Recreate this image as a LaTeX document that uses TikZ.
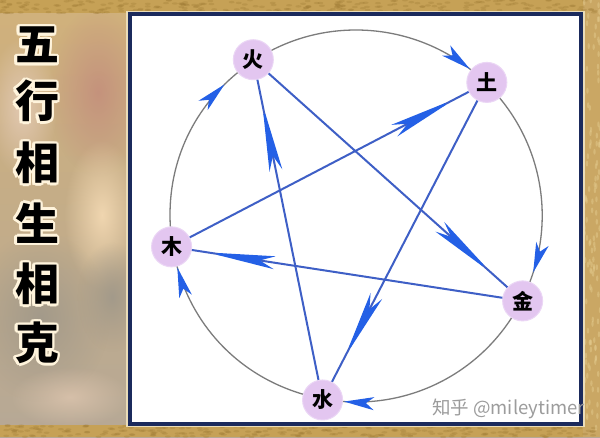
\documentclass[tikz,border=0pt]{standalone}
\usepackage{fontspec}
\newfontfamily\cjk{Noto Sans CJK SC}
\usetikzlibrary{arrows.meta,decorations.markings,calc,fadings}
\definecolor{gold}{HTML}{C6A156}
\definecolor{golddk}{HTML}{9E7A34}
\definecolor{goldlt}{HTML}{E2C98C}
\definecolor{navy}{HTML}{1B2A5C}
\definecolor{cream}{HTML}{EADCB8}
\definecolor{lav}{HTML}{E3C6F0}
\definecolor{lavedge}{HTML}{EBD6F5}
\definecolor{lineblue}{HTML}{3E5FC6}
\definecolor{tipblue}{HTML}{2460E6}
\definecolor{arcgray}{HTML}{7C7C7C}
\definecolor{glow}{HTML}{FFF4DC}
\definecolor{wmgray}{HTML}{9C9C9C}
\definecolor{rosy}{HTML}{C48F7C}
\definecolor{peach}{HTML}{F0D6B0}
\definecolor{cloud}{HTML}{A39A8A}
\definecolor{beige}{HTML}{E2C9B2}
\tikzfading[name=softedge, inner color=transparent!0, outer color=transparent!100]
\tikzset{
  elem/.style={circle, minimum size=40pt, inner sep=0pt, fill=lav, draw=lavedge, line width=1pt,
    font=\cjk\bfseries\fontsize{21}{21}\selectfont},
  titlech/.style={font=\cjk\bfseries\fontsize{44}{44}\selectfont, inner sep=0pt},
  starline/.style={draw=lineblue, line width=2pt, postaction={decorate},
    decoration={markings, mark=at position #1 with {\arrow{Stealth[length=68pt,width=13pt,inset=15pt,color=tipblue]}}}},
  arcline/.style={draw=arcgray, line width=1.3pt, postaction={decorate},
    decoration={markings, mark=at position #1 with {\arrow{Stealth[length=30pt,width=13pt,inset=8pt,color=tipblue]}}}},
  blob/.style={path fading=softedge},
}
\begin{document}
\begin{tikzpicture}[x=1pt,y=1pt]
\useasboundingbox (0,0) rectangle (600,437);
\clip (0,0) rectangle (600,437);
% background
\shade[top color=gold!60!beige, middle color=beige!90!rosy, bottom color=cloud!70!beige] (0,0) rectangle (600,437);
\fill[rosy, blob, opacity=0.9] (98,345) ellipse (50 and 85);
\fill[beige, blob] (22,330) ellipse (35 and 70);
\fill[peach, blob] (102,222) ellipse (38 and 75);
\fill[cloud, blob] (40,120) ellipse (70 and 85);
\fill[cloud, blob] (112,140) ellipse (35 and 55);
\fill[beige, blob, opacity=0.7] (70,40) ellipse (60 and 30);
% golden strips
\fill[gold] (0,424) rectangle (600,437);
\fill[gold] (0,0) rectangle (600,12);
\fill[gold!85!beige] (583,0) rectangle (600,437);
\pgfmathsetseed{11}
\foreach \i in {1,...,260} {
  \pgfmathsetmacro\xx{rnd*600}
  \pgfmathsetmacro\yy{424+rnd*13}
  \fill[golddk, opacity=0.3] (\xx,\yy) ellipse (3 and 1.2);
}
\foreach \i in {1,...,260} {
  \pgfmathsetmacro\xx{rnd*600}
  \pgfmathsetmacro\yy{rnd*12}
  \fill[golddk, opacity=0.3] (\xx,\yy) ellipse (3 and 1.2);
}
\foreach \i in {1,...,120} {
  \pgfmathsetmacro\xx{584+rnd*16}
  \pgfmathsetmacro\yy{rnd*437}
  \fill[goldlt, opacity=0.5] (\xx,\yy) ellipse (1.2 and 3);
}
% panel
\draw[cream, line width=2pt] (126.5,11) rectangle (583.5,425);
\fill[white] (129.5,13.5) rectangle (580.5,422.5);
\draw[navy, line width=4pt] (129.5,13.5) rectangle (580.5,422.5);
% title with light outline
\foreach \ch/\yy [count=\i] in {五/392, 行/336, 相/274, 生/214, 相/153, 克/94} {
  \foreach \a in {0,30,...,330} {
    \path (37,\yy) ++(\a:2.6) node[titlech, text=glow] (g\i-\a) {\ch};
  }
  \node[titlech, text=black] (t\i) at (37,\yy) {\ch};
}
% elements
\coordinate (c) at (356,221);
\node[elem] (huo) at ($(c)+(123.3:187)$) {火};
\node[elem] (tu) at ($(c)+(45.6:187)$) {土};
\node[elem] (jin) at ($(c)+(-27:187)$) {金};
\node[elem] (shui) at ($(c)+(-100.3:187)$) {水};
\node[elem] (mu) at ($(c)+(189.5:187)$) {木};
% generating cycle (arcs)
\draw[arcline=0.9] (mu) to[bend left=27, looseness=0.92] (huo);
\draw[arcline=0.995] (huo) to[bend left=32.8, looseness=0.92] (tu);
\draw[arcline=0.95] (tu) to[bend left=30.2, looseness=0.92] (jin);
\draw[arcline=0.995] (jin) to[bend left=30.6, looseness=0.92] (shui);
\draw[arcline=0.995] (shui) to[bend left=29, looseness=0.92] (mu);
% overcoming cycle (star)
\draw[starline=0.95] (mu) -- (tu);
\draw[starline=0.91] (tu) -- (shui);
\draw[starline=0.92] (shui) -- (huo);
\draw[starline=0.93] (huo) -- (jin);
\draw[starline=0.95] (jin) -- (mu);
% watermark
\node[anchor=west, inner sep=0pt, text=wmgray, font=\cjk\fontsize{18.5}{18.5}\selectfont] (wm) at (432,28) {知乎 @mileytimer};
\end{tikzpicture}
\end{document}
